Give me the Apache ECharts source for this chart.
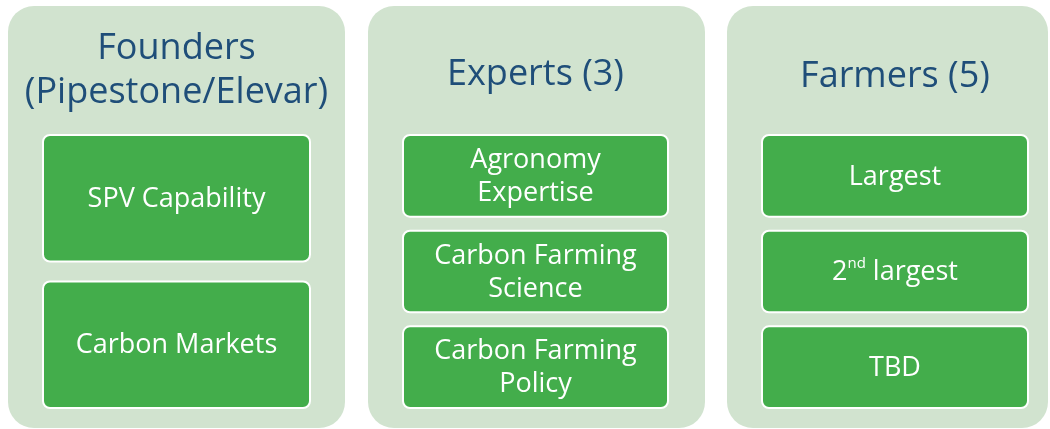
<!DOCTYPE html>
<html lang="en">
<head>
  <meta http-equiv="Content-Type" content="text/html; charset=UTF-8">
  <title>Founders / Experts / Farmers</title>
  <style>
    html, body {
      padding: 0;
      margin: 0;
      background: #fff;
    }
    #myChart {
      width: 1050px;
      height: 429px;
    }
  </style>
</head>
<body>
  <div id="myChart"></div>
  <script src="https://cdn.jsdelivr.net/npm/echarts@6/dist/echarts.min.js"></script>
  <script>
    const myChart = echarts.init(document.getElementById('myChart'));

    // group headings
    const panelTitles = ['Founders\n(Pipestone/Elevar)', 'Experts (3)', 'Farmers (5)'];
    // boxes in each group
    const founderItems = ['SPV Capability', 'Carbon Markets'];
    const expertItems = ['Agronomy\nExpertise', 'Carbon Farming\nScience', 'Carbon Farming\nPolicy'];
    const farmerItems = ['Largest', '{n|2}{sup|nd}{n| largest}', 'TBD'];
    const panelItems = [founderItems, expertItems, farmerItems];

    // layout (pixels)
    const panelX = [[8, 345], [368, 705], [727, 1048]];
    const boxX = [[43, 310], [403, 668], [762, 1028]];
    const titleY = [71, 75, 77];
    const panelTop = 6, panelBottom = 428;
    const boxTop = 135, boxBottom = 408;
    const font = '"Open Sans", "DejaVu Sans", sans-serif';

    const elements = [];
    panelTitles.forEach((title, i) => {
      const [px0, px1] = panelX[i];
      elements.push({
        type: 'rect',
        shape: { x: px0, y: panelTop, width: px1 - px0, height: panelBottom - panelTop, r: 26 },
        style: { fill: '#d1e3cf' }
      });
      const [bx0, bx1] = boxX[i];
      const cx = (bx0 + bx1) / 2;
      elements.push({
        type: 'text',
        x: cx,
        y: titleY[i],
        style: {
          text: title,
          fill: '#1f4e79',
          fontSize: 36,
          fontWeight: 500,
          fontFamily: font,
          lineHeight: 44,
          align: 'center',
          verticalAlign: 'middle'
        }
      });
      const items = panelItems[i];
      const n = items.length;
      const gap = n === 2 ? 20 : 14;
      const h = (boxBottom - boxTop - (n - 1) * gap) / n;
      items.forEach((label, j) => {
        const y0 = boxTop + j * (h + gap);
        elements.push({
          type: 'rect',
          shape: { x: bx0, y: y0, width: bx1 - bx0, height: h, r: 7 },
          style: { fill: '#43ad4b', stroke: '#ffffff', lineWidth: 2 }
        });
        elements.push({
          type: 'text',
          x: cx,
          y: y0 + h / 2 + 1,
          style: {
            text: label,
            fill: '#ffffff',
            fontSize: 27,
            fontFamily: font,
            lineHeight: 33,
            align: 'center',
            verticalAlign: 'middle',
            rich: {
              n: { fontSize: 27, fontFamily: font, fill: '#fff', lineHeight: 33 },
              sup: { fontSize: 15, fontFamily: font, fill: '#fff', verticalAlign: 'top', lineHeight: 33, padding: [0, 0, 8, 0] }
            }
          }
        });
      });
    });

    myChart.setOption({
      backgroundColor: '#ffffff',
      graphic: { elements: elements }
    });
  </script>
</body>
</html>
